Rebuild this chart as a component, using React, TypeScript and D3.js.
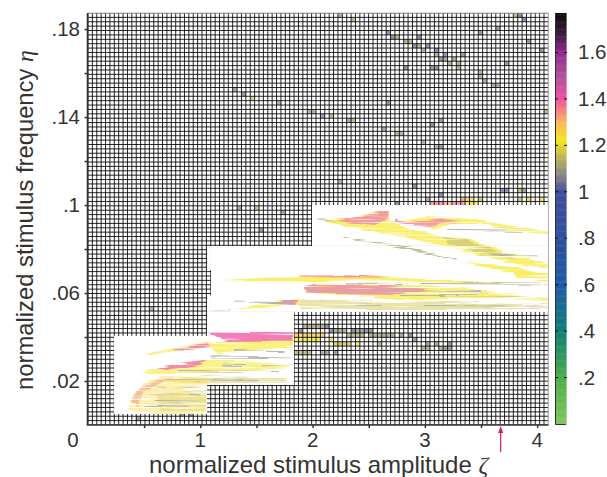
import React, { useRef, useEffect } from 'react';
import * as d3 from 'd3';

type Pt = [number, number];

// colour scale of the side bar
const colorValues = [0, 0.2, 0.4, 0.6, 0.8, 1, 1.05, 1.12, 1.22, 1.3, 1.4, 1.5, 1.6, 1.68, 1.77];
const colorHexes = ['#80c75c', '#4aae4a', '#0e7f77', '#1e5aa8', '#2f4f9f', '#3d4d9a', '#77788c', '#a9a36a', '#f5e61a', '#fbb45f', '#ee4f9e', '#b0509e', '#8f2a8c', '#3a1a3e', '#0a0a0a'];

const xTicks = [0.5, 1, 1.5, 2, 2.5, 3, 3.5, 4];
const xLabels = [1, 2, 3, 4];
const yTicks = [0.02, 0.04, 0.06, 0.08, 0.1, 0.12, 0.14, 0.16, 0.18];
const yLabels = [0.02, 0.06, 0.1, 0.14, 0.18];
const barTicks = [0.2, 0.4, 0.6, 0.8, 1, 1.2, 1.4, 1.6];

// coarse sweep
const zetaMax = 4.1;
const etaMax = 0.1873;
const gridCols = 105;
const gridRows = 94;

// [zeta, eta, response] for the few coarse cells that are not white
const sparseCells: [number, number, number][] = [
  [2.244, .1861, 1.1], [2.363, .1841, 1.12], [3.808, .1861, 1.13], [3.847, .1861, 1.03], [3.883, .1841, 1.03],
  [3.654, .18, 1.04], [3.497, .1777, 1.04], [2.678, .1777, 1.03], [2.716, .1758, 1.04], [2.755, .1758, 1.1],
  [2.832, .1739, 1.1], [2.87, .1739, 1.11], [2.951, .1758, 1.03], [2.912, .172, 1.03], [2.951, .172, 1.1],
  [3.028, .172, 1.04], [2.989, .1701, 1.1], [3.108, .1701, 1.03], [3.108, .1685, 1.1], [3.185, .1685, 1.04],
  [3.339, .1685, 1.05], [3.147, .1667, 1.04], [3.185, .1667, 1.1], [3.262, .1667, 1.1], [3.224, .1649, 1.1],
  [3.301, .1649, 1.1], [3.301, .1632, 1.1], [3.734, .1649, 1.05], [2.832, .1617, 1.03], [3.069, .1617, 1.05],
  [3.108, .1617, 1.04], [3.927, .1739, 1.03], [4.043, .1701, 1.04], [3.497, .1599, 1.1], [3.497, .1583, 1.1],
  [3.535, .1568, 1.09], [3.612, .1553, 1.08], [3.654, .1538, 1.1], [2.678, .1459, 1.04], [1.977, .1423, 1.1],
  [2.013, .1423, 1.1], [2.09, .1401, 1.05], [2.17, .1401, 1.12], [2.327, .1385, 1.09], [2.363, .1385, 1.12],
  [3.147, .1385, 1.05], [3.069, .1366, 1.03], [2.636, .135, 1.09], [2.755, .1327, 1.12], [2.793, .1327, 1.1],
  [2.989, .1295, 1.1], [3.108, .1274, 1.12], [3.147, .1274, 1.05], [2.244, .1106, 1.1], [2.912, .1088, 1.03],
  [3.69, .1065, 1.03], [3.728, .1065, 1.03], [3.847, .1065, 1.13], [3.883, .1065, 1.06], [3.147, .1049, 1.03],
  [3.028, .103, 1.1], [3.339, .103, 1.33], [3.381, .103, 1.27], [3.42, .103, 1.24], [3.497, .103, 1.15],
  [3.847, .103, 1.15], [3.927, .103, 1.2], [4.043, .103, 1.22], [2.755, .1012, 1.03], [3.069, .1012, 1.36],
  [3.108, .1012, 1.36], [3.147, .1012, 1.36], [3.185, .1012, 1.33], [3.224, .1012, 1.3], [3.262, .1012, 1.36],
  [3.301, .1012, 1.36], [3.339, .1012, 1.36], [3.381, .1012, 1.22], [3.42, .1012, 1.2], [3.458, .1012, 1.22],
  [4.085, .1423, 1.1], [1.31, .1523, 1.08], [1.39, .1495, 1.05], [1.46, .1482, 1.17], [1.7, .1464, 1.1],
  [1.36, .0995, 1.08], [1.5, .0977, 1.15], [1.56, .0891, 1.05], [1.73, .0964, 1.08], [0.57, .0523, 1.1],
  [0.45, .0027, 1.05], [0.84, .0041, 1.05], [0.92, .0041, 1.03],
  [1.936, .0453, 1.1], [1.977, .0453, 1.1], [2.013, .0453, 1.1], [2.054, .0453, 1.1], [2.093, .0453, 1.1], [2.131, .0453, 1.03],
  [1.897, .0433, 1.03], [2.17, .0433, 1.03], [2.209, .0433, 1.1], [2.247, .0433, 1.1], [2.286, .0433, 1.1], [2.363, .0433, 1.03],
  [2.405, .0433, 1.08], [2.443, .0433, 1.07], [2.482, .0433, 1.04], [2.52, .0433, 1.04],
  [1.858, .0415, 1.27], [1.897, .0415, 1.27], [1.936, .0415, 1.27], [1.977, .0415, 1.27], [2.013, .0415, 1.27], [2.054, .0415, 1.27], [2.093, .0415, 1.27],
  [2.327, .0415, 1.12], [2.363, .0415, 1.12], [2.405, .0415, 1.12], [2.443, .0415, 1.12], [2.52, .0415, 1.1], [2.559, .0415, 1.1],
  [2.597, .0415, 1.1], [2.636, .0415, 1.1], [2.675, .0415, 1.1], [2.713, .0415, 1.1], [2.79, .0415, 1.08], [2.868, .0415, 1.03],
  [1.858, .0395, 1.22], [1.897, .0395, 1.22], [1.936, .0395, 1.22], [1.977, .0395, 1.22], [2.013, .0395, 1.22], [2.054, .0395, 1.22],
  [2.17, .0395, 1.22], [2.906, .0395, 1.05],
  [2.209, .0376, 1.17], [2.247, .0376, 1.17], [2.286, .0376, 1.17], [2.327, .0376, 1.17], [2.405, .0376, 1.22], [2.597, .0376, 1.12],
  [3.022, .0376, 1.08], [3.099, .0376, 1.1], [3.218, .0376, 1.05],
  [2.986, .0358, 1.1], [3.022, .0358, 1.1], [3.141, .0358, 1.1], [3.179, .0358, 1.05], [3.218, .0358, 1.05],
  [1.858, .0338, 1.12], [1.897, .0338, 1.12], [1.936, .0338, 1.12], [1.977, .0338, 1.12], [2.093, .0338, 1.08], [2.131, .0338, 1.08], [2.209, .0338, 1.05],
];

// finer sweeps: [zeta from, zeta to, eta from, eta to]
const finePatches: [number, number, number, number][] = [
  [1.995, zetaMax, .0814, .1],
  [1.095, zetaMax, .0514, .0814],
  [1.06, 1.095, .0514, .059],
  [1.06, 1.095, .0705, .0814],
  [1.06, 1.834, .0182, .0514],
  [0.232, 1.06, .005, .0405],
];

// response bands of the finer sweeps, back to front
const bandValues = [1.1, 1.22, 1.37, 1.15, 1.22, 1.37, 1.12, 1.22, 1.39, 1.22, 1.22, 1.37, 1.17, 1.22, 1.38, 1.1, 1.22, 1.4, 1.22, 1.38, 1.22, 1.38, 1.17, 1.24, 1.34, 1.17];
const bandOpacity = [.8, .8, .85, .75, .8, .85, .9, .85, 1, .8, .75, .85, .6, .8, .9, .8, .75, .95, .75, .9, .65, .95, .55, .5, .7, .4];
const bandShapes: Pt[][] = [
  [[2.007, .0940], [2.215, .0927], [2.215, .0917]],
  [[2.111, .0924], [2.689, .0977], [2.675, .0935], [2.868, .0889], [3.031, .0874], [3.135, .0856], [3.372, .0848], [3.55, .0818], [3.788, .0777], [4.099, .0735], [4.099, .0715], [3.817, .0732], [3.431, .078], [3.075, .0826], [2.571, .0879]],
  [[2.215, .0927], [2.689, .0977], [2.665, .0939], [2.556, .0909], [2.393, .0917]],
  [[3.164, .0856], [3.372, .0841], [3.669, .0788], [3.817, .075], [3.55, .078], [3.224, .0818]],
  [[3.016, .0944], [3.372, .0939], [3.728, .0909], [4.099, .0879], [4.099, .0864], [3.728, .0889], [3.491, .0917], [3.253, .0917], [3.075, .0883], [3.046, .0909], [2.868, .0917], [2.719, .0924]],
  [[2.734, .0939], [2.838, .0921], [3.135, .0939], [3.372, .0924], [3.135, .0917], [3.046, .0898], [2.897, .0909], [2.734, .0921]],
  [[2.274, .0856], [2.778, .0818], [3.283, .0754], [3.283, .0747], [2.778, .0807], [2.274, .0851]],
  [[3.372, .0742], [3.788, .0717], [4.099, .0689], [4.099, .0656], [3.817, .0671], [3.788, .0697], [3.491, .0717]],
  [[1.888, .068], [2.333, .068], [2.689, .0671], [2.333, .0665], [1.888, .067]],
  [[1.175, .0659], [1.858, .0677], [2.689, .0671], [3.372, .0656], [4.099, .0632], [3.372, .0644], [2.689, .0656], [1.887, .0653], [1.175, .0653]],
  [[1.933, .0626], [2.007, .0644], [2.689, .0636], [3.372, .0626], [3.669, .0598], [4.099, .0583], [4.099, .0568], [3.372, .0576], [2.927, .0568], [1.933, .0601]],
  [[1.933, .0626], [2.007, .0641], [2.689, .0632], [3.075, .0617], [2.778, .0595], [1.933, .0601]],
  [[1.888, .0576], [2.333, .0561], [3.075, .0561], [4.099, .0545], [4.099, .0526], [2.778, .0526], [2.066, .053], [1.888, .0526]],
  [[1.249, .052], [1.709, .0568], [1.887, .0576], [1.887, .0546], [1.591, .0538]],
  [[1.62, .0553], [1.769, .0571], [1.887, .0571], [1.828, .0546]],
  [[1.056, .0515], [1.294, .0523], [1.249, .0517]],
  [[1.205, .0383], [1.829, .0402], [1.829, .0356], [1.146, .0323], [1.057, .0364]],
  [[1.072, .0421], [1.829, .0417], [1.829, .0379], [1.294, .0379], [1.205, .0386]],
  [[.537, .0326], [1.057, .0379], [1.176, .0371], [.849, .0341], [.537, .032]],
  [[.745, .0341], [1.057, .0374], [1.087, .0359], [.879, .0338]],
  [[.463, .0242], [1.057, .0295], [1.829, .028], [1.769, .0258], [1.057, .0235], [.552, .0235]],
  [[.612, .0258], [.849, .028], [1.057, .0292], [.997, .0273], [.701, .025]],
  [[.493, .0204], [.552, .0197], [1.057, .0227], [1.769, .0212], [1.769, .0197], [1.057, .0189], [.552, .0197]],
  [[.359, .0068], [.389, .0129], [.493, .0189], [.671, .0223], [1.057, .022], [1.057, .0182], [.849, .0159], [1.057, .0129], [1.057, .0053], [.404, .0053]],
  [[.389, .0114], [.463, .0174], [.76, .022], [.493, .0152], [.448, .0083]],
  [[.612, .0136], [1.057, .0159], [1.057, .0068], [.641, .0061]],
];

// grey hairlines that run along the bands
const hairEtas = [.0885, .0772, .0645, .0612, .0590, .0560, .0545, .0338, .0310, .0272, .0248, .0206, .0172, .0142, .0112, .0090];
const hairFrom = [3.2, 3.5, 2.3, 1.95, 2.5, 1.3, 2.2, 1.3, 1.1, 1.2, .8, .7, .6, .55, .6, .5];
const hairTo = [3.9, 4.0, 4.1, 3.5, 4.05, 1.85, 4.05, 1.75, 1.8, 1.8, 1.7, 1.75, 1.0, 1.0, 1.0, .9];

const stimulusZeta = 3.675;

const WIDTH = 607;
const HEIGHT = 477;
const FONT = '"Liberation Sans", Arial, sans-serif';
const TEXT = '#333';

const tickText = (v: number) => String(v).replace(/^0/, '');

const App = () => {
  const ref = useRef<SVGSVGElement | null>(null);

  useEffect(() => {
    const svg = d3.select(ref.current);
    svg.selectAll('*').remove();

    const x = d3.scaleLinear().domain([0, zetaMax]).range([88, 548.4]);
    const y = d3.scaleLinear().domain([0, etaMax]).range([425, 13]);
    const color = d3.scaleLinear<string>().domain(colorValues).range(colorHexes).clamp(true);
    const barY = d3.scaleLinear().domain([0, 1.77]).range([424, 13]);

    const defs = svg.append('defs');
    defs.append('clipPath').attr('id', 'plot')
      .append('rect').attr('x', x(0)).attr('y', y(etaMax))
      .attr('width', x(zetaMax) - x(0)).attr('height', y(0) - y(etaMax));

    // streaky, speckled look of the finely sampled bands
    const streak = defs.append('filter').attr('id', 'streak')
      .attr('filterUnits', 'userSpaceOnUse')
      .attr('x', 0).attr('y', 0).attr('width', WIDTH).attr('height', HEIGHT);
    streak.append('feTurbulence').attr('type', 'fractalNoise')
      .attr('baseFrequency', '0.012 0.55').attr('numOctaves', 3).attr('seed', 7).attr('result', 'noise');
    streak.append('feDisplacementMap').attr('in', 'SourceGraphic').attr('in2', 'noise')
      .attr('scale', 5).attr('xChannelSelector', 'R').attr('yChannelSelector', 'G').attr('result', 'rough');
    streak.append('feColorMatrix').attr('in', 'noise').attr('type', 'matrix')
      .attr('values', '0 0 0 0 0 0 0 0 0 0 0 0 0 0 0 5 0 0 0 -1.15').attr('result', 'gaps');
    streak.append('feComposite').attr('in', 'rough').attr('in2', 'gaps').attr('operator', 'in');

    const plot = svg.append('g').attr('clip-path', 'url(#plot)');

    // coarse cells
    const zStep = zetaMax / gridCols;
    const eStep = etaMax / gridRows;
    plot.selectAll('rect.cell').data(sparseCells).join('rect')
      .attr('class', 'cell')
      .attr('x', d => x(Math.floor(d[0] / zStep) * zStep))
      .attr('y', d => y((Math.floor(d[1] / eStep) + 1) * eStep))
      .attr('width', x(zStep) - x(0))
      .attr('height', y(0) - y(eStep))
      .attr('fill', d => d3.interpolateRgb(color(d[2]), '#fff')(0.3));

    // coarse grid
    d3.range(gridCols + 1).forEach(i => {
      plot.append('line').attr('x1', x(i * zStep)).attr('x2', x(i * zStep))
        .attr('y1', y(0)).attr('y2', y(etaMax)).attr('stroke', '#000').attr('stroke-width', 0.85);
    });
    d3.range(gridRows + 1).forEach(i => {
      plot.append('line').attr('y1', y(i * eStep)).attr('y2', y(i * eStep))
        .attr('x1', x(0)).attr('x2', x(zetaMax)).attr('stroke', '#000').attr('stroke-width', 0.85);
    });

    // finer sweeps
    plot.selectAll('rect.patch').data(finePatches).join('rect')
      .attr('class', 'patch')
      .attr('x', d => x(d[0]))
      .attr('y', d => y(d[3]))
      .attr('width', d => x(d[1]) - x(d[0]))
      .attr('height', d => y(d[2]) - y(d[3]))
      .attr('fill', '#fff');

    const bands = plot.append('g').attr('filter', 'url(#streak)');
    const line = d3.line<Pt>().x(d => x(d[0])).y(d => y(d[1])).curve(d3.curveLinearClosed);
    bands.selectAll('path.band').data(bandShapes).join('path')
      .attr('class', 'band')
      .attr('d', d => line(d))
      .attr('fill', (d, i) => d3.interpolateRgb(color(bandValues[i]), '#fff')(0.22))
      .attr('fill-opacity', (d, i) => bandOpacity[i]);

    bands.selectAll('line.hair').data(hairEtas).join('line')
      .attr('class', 'hair')
      .attr('x1', (d, i) => x(hairFrom[i]))
      .attr('x2', (d, i) => x(hairTo[i]))
      .attr('y1', d => y(d))
      .attr('y2', d => y(d) + 1)
      .attr('stroke', '#b4b3ae')
      .attr('stroke-width', 1);

    // frame
    const frame = svg.append('g').attr('fill', 'none');
    frame.append('path').attr('d', `M${x(0)},${y(etaMax)}H${x(zetaMax)}V${y(0)}`).attr('stroke', '#b5b5b5').attr('stroke-width', 1);
    frame.append('path').attr('d', `M${x(0) - 0.5},${y(etaMax)}V${y(0)}H${x(zetaMax)}`).attr('stroke', '#333').attr('stroke-width', 1.6);

    // axes
    const xAxis = svg.append('g').attr('transform', `translate(0,${y(0)})`)
      .call(d3.axisBottom(x).tickValues(xTicks).tickSize(3).tickFormat(() => ''));
    const yAxis = svg.append('g').attr('transform', `translate(${x(0)},0)`)
      .call(d3.axisLeft(y).tickValues(yTicks).tickSize(3.5).tickFormat(() => ''));
    [xAxis, yAxis].forEach(a => {
      a.select('.domain').remove();
      a.selectAll('line').attr('stroke', '#333').attr('stroke-width', 1.5);
    });

    const label = (s: d3.Selection<SVGTextElement, any, any, any>) =>
      s.attr('font-family', FONT).attr('font-size', 20.5).attr('fill', TEXT);

    svg.selectAll('text.xl').data(xLabels).join('text').attr('class', 'xl')
      .call(label).attr('x', d => x(d)).attr('y', 447).attr('text-anchor', 'middle').text(d => d);
    svg.append('text').call(label).attr('x', 73).attr('y', 447).attr('text-anchor', 'middle').text('0');
    svg.selectAll('text.yl').data(yLabels).join('text').attr('class', 'yl')
      .call(label).attr('x', 80).attr('y', d => y(d) + 7).attr('text-anchor', 'end').text(d => tickText(d));

    // titles
    const xTitle = svg.append('text').attr('x', 149).attr('y', 473)
      .attr('font-family', FONT).attr('font-size', 24).attr('fill', TEXT);
    xTitle.append('tspan').text('normalized stimulus amplitude ');
    xTitle.append('tspan').attr('font-family', '"Liberation Serif", serif').attr('font-style', 'italic').text('ζ');

    const yTitle = svg.append('text').attr('transform', 'translate(33,390) rotate(-90)')
      .attr('font-family', FONT).attr('font-size', 23.8).attr('fill', TEXT);
    yTitle.append('tspan').text('normalized stimulus frequency ');
    yTitle.append('tspan').attr('font-family', '"Liberation Serif", serif').attr('font-style', 'italic').text('η');

    // stimulus arrow
    const arrow = svg.append('g').attr('stroke', '#e8175d').attr('fill', '#e8175d');
    arrow.append('line').attr('x1', x(stimulusZeta)).attr('x2', x(stimulusZeta))
      .attr('y1', y(0) + 27).attr('y2', y(0) + 4).attr('stroke-width', 1.2);
    arrow.append('path').attr('stroke', 'none')
      .attr('d', `M${x(stimulusZeta)},${y(0) + 1}l2.5,7h-5z`);

    // colour bar
    const bar = svg.append('g');
    d3.range(0, 1.77, 0.005).forEach(v => {
      bar.append('rect').attr('x', 555).attr('width', 11.5)
        .attr('y', barY(v + 0.005)).attr('height', barY(v) - barY(v + 0.005) + 0.5)
        .attr('fill', color(v));
    });
    bar.append('path').attr('d', `M555.5,13V424.5H566`).attr('fill', 'none').attr('stroke', '#333').attr('stroke-width', 1);
    barTicks.forEach(v => {
      bar.append('line').attr('x1', 555).attr('x2', 558).attr('y1', barY(v)).attr('y2', barY(v)).attr('stroke', '#111');
      bar.append('line').attr('x1', 564).attr('x2', 567).attr('y1', barY(v)).attr('y2', barY(v)).attr('stroke', '#111');
    });
    svg.selectAll('text.bl').data(barTicks).join('text').attr('class', 'bl')
      .call(label).attr('x', 578).attr('y', d => barY(d) + 7).text(d => tickText(d));
  }, []);

  return <svg ref={ref} width={WIDTH} height={HEIGHT} style={{ position: 'absolute', left: 0, top: 0, background: '#fff' }} />;
};

export default App;
